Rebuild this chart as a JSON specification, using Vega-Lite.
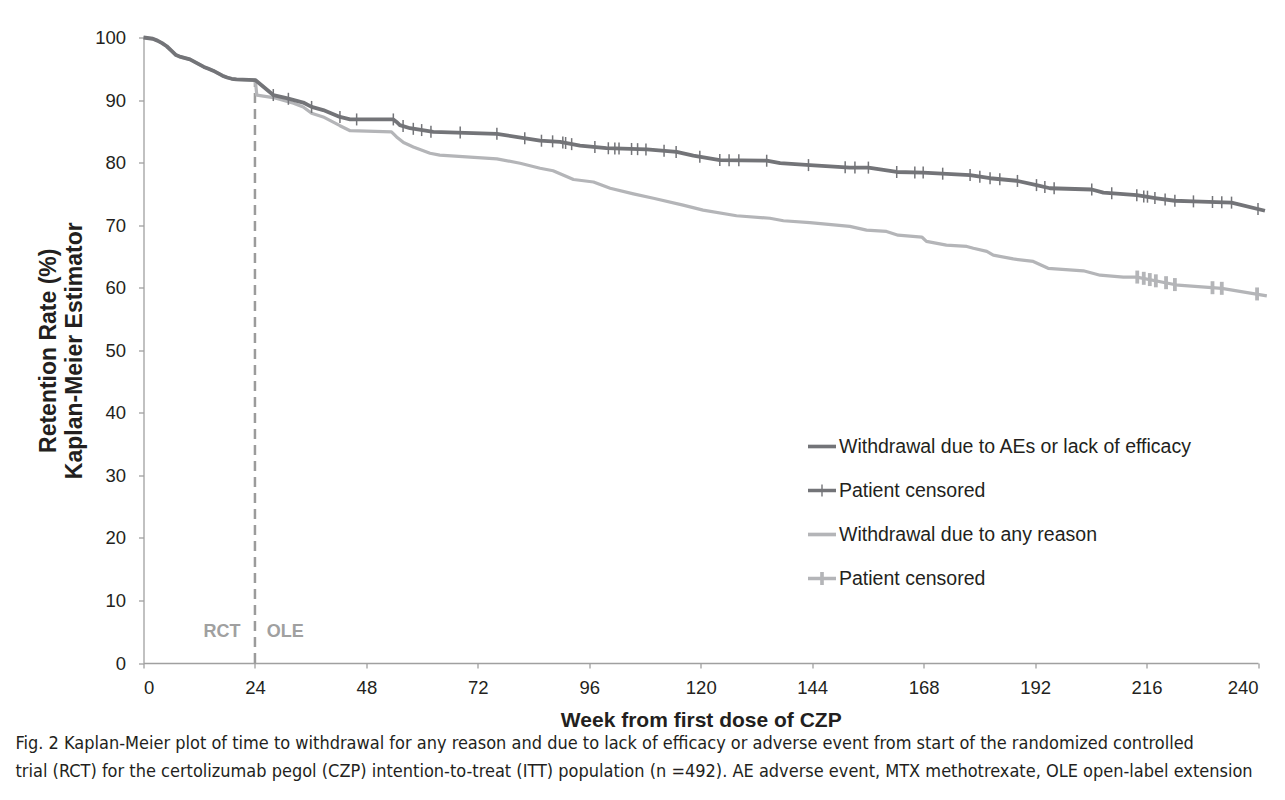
{
  "$schema": "https://vega.github.io/schema/vega-lite/v6.json",
  "width": 1114.5,
  "height": 625.5,
  "autosize": {"type": "none"},
  "padding": {"left": 143.5, "top": 37.5, "right": 27, "bottom": 137},
  "background": "white",
  "config": {
    "view": {"stroke": null},
    "font": "Liberation Sans",
    "axis": {
      "grid": false,
      "domainColor": "#a0a0a0",
      "domainWidth": 1.3,
      "tickColor": "#a0a0a0",
      "tickWidth": 1.3,
      "tickSize": 5,
      "labelFont": "Liberation Sans",
      "labelFontSize": 18.5,
      "labelColor": "#231f20",
      "titleFont": "Liberation Sans",
      "titleColor": "#231f20",
      "titleFontWeight": "bold"
    }
  },
  "title": {
    "text": [
      "Fig. 2 Kaplan-Meier plot of time to withdrawal for any reason and due to lack of efficacy or adverse event from start of the randomized controlled",
      "trial (RCT) for the certolizumab pegol (CZP) intention-to-treat (ITT) population (n =492). AE adverse event, MTX methotrexate, OLE open-label extension"
    ],
    "orient": "bottom",
    "anchor": "start",
    "frame": "group",
    "dx": -128,
    "offset": 4,
    "font": "DejaVu Sans Condensed, Liberation Sans Narrow, sans-serif",
    "fontSize": 18,
    "fontWeight": "normal",
    "color": "#231f20",
    "lineHeight": 28
  },
  "datasets": {
    "curves": [
      {"series": "Withdrawal due to any reason", "week": 0, "rate": 100},
      {"series": "Withdrawal due to any reason", "week": 2, "rate": 99.8},
      {"series": "Withdrawal due to any reason", "week": 3, "rate": 99.5},
      {"series": "Withdrawal due to any reason", "week": 4, "rate": 99.1},
      {"series": "Withdrawal due to any reason", "week": 5, "rate": 98.6},
      {"series": "Withdrawal due to any reason", "week": 6, "rate": 97.9},
      {"series": "Withdrawal due to any reason", "week": 7, "rate": 97.2},
      {"series": "Withdrawal due to any reason", "week": 8, "rate": 96.9},
      {"series": "Withdrawal due to any reason", "week": 9, "rate": 96.7},
      {"series": "Withdrawal due to any reason", "week": 10, "rate": 96.5},
      {"series": "Withdrawal due to any reason", "week": 11, "rate": 96.1},
      {"series": "Withdrawal due to any reason", "week": 12, "rate": 95.7},
      {"series": "Withdrawal due to any reason", "week": 13, "rate": 95.3},
      {"series": "Withdrawal due to any reason", "week": 14, "rate": 95.0},
      {"series": "Withdrawal due to any reason", "week": 15, "rate": 94.7},
      {"series": "Withdrawal due to any reason", "week": 16, "rate": 94.3},
      {"series": "Withdrawal due to any reason", "week": 17, "rate": 93.9},
      {"series": "Withdrawal due to any reason", "week": 18, "rate": 93.6},
      {"series": "Withdrawal due to any reason", "week": 19, "rate": 93.4},
      {"series": "Withdrawal due to any reason", "week": 20, "rate": 93.3},
      {"series": "Withdrawal due to any reason", "week": 24.07, "rate": 93.2},
      {"series": "Withdrawal due to any reason", "week": 24.4, "rate": 90.8},
      {"series": "Withdrawal due to any reason", "week": 27.95, "rate": 90.4},
      {"series": "Withdrawal due to any reason", "week": 32.3, "rate": 89.5},
      {"series": "Withdrawal due to any reason", "week": 34.4, "rate": 88.9},
      {"series": "Withdrawal due to any reason", "week": 36.2, "rate": 87.9},
      {"series": "Withdrawal due to any reason", "week": 38.7, "rate": 87.3},
      {"series": "Withdrawal due to any reason", "week": 42.3, "rate": 85.9},
      {"series": "Withdrawal due to any reason", "week": 44.5, "rate": 85.1},
      {"series": "Withdrawal due to any reason", "week": 53.4, "rate": 84.9},
      {"series": "Withdrawal due to any reason", "week": 54.5, "rate": 84.1},
      {"series": "Withdrawal due to any reason", "week": 56.0, "rate": 83.2},
      {"series": "Withdrawal due to any reason", "week": 58.1, "rate": 82.5},
      {"series": "Withdrawal due to any reason", "week": 61.7, "rate": 81.5},
      {"series": "Withdrawal due to any reason", "week": 63.8, "rate": 81.2},
      {"series": "Withdrawal due to any reason", "week": 76.1, "rate": 80.6},
      {"series": "Withdrawal due to any reason", "week": 81.1, "rate": 79.9},
      {"series": "Withdrawal due to any reason", "week": 85.4, "rate": 79.1},
      {"series": "Withdrawal due to any reason", "week": 88.2, "rate": 78.7},
      {"series": "Withdrawal due to any reason", "week": 92.6, "rate": 77.3},
      {"series": "Withdrawal due to any reason", "week": 96.9, "rate": 76.9},
      {"series": "Withdrawal due to any reason", "week": 100.5, "rate": 75.9},
      {"series": "Withdrawal due to any reason", "week": 105.5, "rate": 75.0},
      {"series": "Withdrawal due to any reason", "week": 109.8, "rate": 74.3},
      {"series": "Withdrawal due to any reason", "week": 116.2, "rate": 73.2},
      {"series": "Withdrawal due to any reason", "week": 120.5, "rate": 72.4},
      {"series": "Withdrawal due to any reason", "week": 127.7, "rate": 71.5},
      {"series": "Withdrawal due to any reason", "week": 134.9, "rate": 71.1},
      {"series": "Withdrawal due to any reason", "week": 137.8, "rate": 70.7},
      {"series": "Withdrawal due to any reason", "week": 143.5, "rate": 70.4},
      {"series": "Withdrawal due to any reason", "week": 152.1, "rate": 69.8},
      {"series": "Withdrawal due to any reason", "week": 155.7, "rate": 69.2},
      {"series": "Withdrawal due to any reason", "week": 160.0, "rate": 69.0},
      {"series": "Withdrawal due to any reason", "week": 162.5, "rate": 68.4},
      {"series": "Withdrawal due to any reason", "week": 167.6, "rate": 68.1},
      {"series": "Withdrawal due to any reason", "week": 168.6, "rate": 67.4},
      {"series": "Withdrawal due to any reason", "week": 172.9, "rate": 66.8},
      {"series": "Withdrawal due to any reason", "week": 177.3, "rate": 66.6},
      {"series": "Withdrawal due to any reason", "week": 178.7, "rate": 66.3},
      {"series": "Withdrawal due to any reason", "week": 181.6, "rate": 65.8},
      {"series": "Withdrawal due to any reason", "week": 183.0, "rate": 65.2},
      {"series": "Withdrawal due to any reason", "week": 187.3, "rate": 64.6},
      {"series": "Withdrawal due to any reason", "week": 191.6, "rate": 64.2},
      {"series": "Withdrawal due to any reason", "week": 194.8, "rate": 63.1},
      {"series": "Withdrawal due to any reason", "week": 202.4, "rate": 62.7},
      {"series": "Withdrawal due to any reason", "week": 206.0, "rate": 62.0},
      {"series": "Withdrawal due to any reason", "week": 211.0, "rate": 61.7},
      {"series": "Withdrawal due to any reason", "week": 213.9, "rate": 61.7},
      {"series": "Withdrawal due to any reason", "week": 222.8, "rate": 60.4},
      {"series": "Withdrawal due to any reason", "week": 232.2, "rate": 59.9},
      {"series": "Withdrawal due to any reason", "week": 241.9, "rate": 58.7},
      {"series": "Withdrawal due to AEs or lack of efficacy", "week": 0, "rate": 100},
      {"series": "Withdrawal due to AEs or lack of efficacy", "week": 2, "rate": 99.8},
      {"series": "Withdrawal due to AEs or lack of efficacy", "week": 3, "rate": 99.5},
      {"series": "Withdrawal due to AEs or lack of efficacy", "week": 4, "rate": 99.1},
      {"series": "Withdrawal due to AEs or lack of efficacy", "week": 5, "rate": 98.6},
      {"series": "Withdrawal due to AEs or lack of efficacy", "week": 6, "rate": 97.9},
      {"series": "Withdrawal due to AEs or lack of efficacy", "week": 7, "rate": 97.2},
      {"series": "Withdrawal due to AEs or lack of efficacy", "week": 8, "rate": 96.9},
      {"series": "Withdrawal due to AEs or lack of efficacy", "week": 9, "rate": 96.7},
      {"series": "Withdrawal due to AEs or lack of efficacy", "week": 10, "rate": 96.5},
      {"series": "Withdrawal due to AEs or lack of efficacy", "week": 11, "rate": 96.1},
      {"series": "Withdrawal due to AEs or lack of efficacy", "week": 12, "rate": 95.7},
      {"series": "Withdrawal due to AEs or lack of efficacy", "week": 13, "rate": 95.3},
      {"series": "Withdrawal due to AEs or lack of efficacy", "week": 14, "rate": 95.0},
      {"series": "Withdrawal due to AEs or lack of efficacy", "week": 15, "rate": 94.7},
      {"series": "Withdrawal due to AEs or lack of efficacy", "week": 16, "rate": 94.3},
      {"series": "Withdrawal due to AEs or lack of efficacy", "week": 17, "rate": 93.9},
      {"series": "Withdrawal due to AEs or lack of efficacy", "week": 18, "rate": 93.6},
      {"series": "Withdrawal due to AEs or lack of efficacy", "week": 19, "rate": 93.4},
      {"series": "Withdrawal due to AEs or lack of efficacy", "week": 20, "rate": 93.3},
      {"series": "Withdrawal due to AEs or lack of efficacy", "week": 24.07, "rate": 93.2},
      {"series": "Withdrawal due to AEs or lack of efficacy", "week": 27.95, "rate": 90.8},
      {"series": "Withdrawal due to AEs or lack of efficacy", "week": 30.8, "rate": 90.3},
      {"series": "Withdrawal due to AEs or lack of efficacy", "week": 34.4, "rate": 89.6},
      {"series": "Withdrawal due to AEs or lack of efficacy", "week": 36.2, "rate": 88.9},
      {"series": "Withdrawal due to AEs or lack of efficacy", "week": 38.7, "rate": 88.4},
      {"series": "Withdrawal due to AEs or lack of efficacy", "week": 42.3, "rate": 87.3},
      {"series": "Withdrawal due to AEs or lack of efficacy", "week": 44.5, "rate": 86.9},
      {"series": "Withdrawal due to AEs or lack of efficacy", "week": 53.8, "rate": 86.9},
      {"series": "Withdrawal due to AEs or lack of efficacy", "week": 54.5, "rate": 86.5},
      {"series": "Withdrawal due to AEs or lack of efficacy", "week": 55.2, "rate": 86.0},
      {"series": "Withdrawal due to AEs or lack of efficacy", "week": 57.4, "rate": 85.5},
      {"series": "Withdrawal due to AEs or lack of efficacy", "week": 62.4, "rate": 84.9},
      {"series": "Withdrawal due to AEs or lack of efficacy", "week": 76.1, "rate": 84.6},
      {"series": "Withdrawal due to AEs or lack of efficacy", "week": 85.4, "rate": 83.5},
      {"series": "Withdrawal due to AEs or lack of efficacy", "week": 89.7, "rate": 83.3},
      {"series": "Withdrawal due to AEs or lack of efficacy", "week": 94.0, "rate": 82.7},
      {"series": "Withdrawal due to AEs or lack of efficacy", "week": 99.7, "rate": 82.3},
      {"series": "Withdrawal due to AEs or lack of efficacy", "week": 108.4, "rate": 82.1},
      {"series": "Withdrawal due to AEs or lack of efficacy", "week": 114.8, "rate": 81.7},
      {"series": "Withdrawal due to AEs or lack of efficacy", "week": 118.4, "rate": 81.1},
      {"series": "Withdrawal due to AEs or lack of efficacy", "week": 124.1, "rate": 80.4},
      {"series": "Withdrawal due to AEs or lack of efficacy", "week": 134.2, "rate": 80.3},
      {"series": "Withdrawal due to AEs or lack of efficacy", "week": 137.1, "rate": 79.9},
      {"series": "Withdrawal due to AEs or lack of efficacy", "week": 143.5, "rate": 79.6},
      {"series": "Withdrawal due to AEs or lack of efficacy", "week": 152.1, "rate": 79.2},
      {"series": "Withdrawal due to AEs or lack of efficacy", "week": 156.1, "rate": 79.2},
      {"series": "Withdrawal due to AEs or lack of efficacy", "week": 162.2, "rate": 78.5},
      {"series": "Withdrawal due to AEs or lack of efficacy", "week": 167.9, "rate": 78.4},
      {"series": "Withdrawal due to AEs or lack of efficacy", "week": 178.0, "rate": 78.0},
      {"series": "Withdrawal due to AEs or lack of efficacy", "week": 182.3, "rate": 77.5},
      {"series": "Withdrawal due to AEs or lack of efficacy", "week": 188.0, "rate": 77.1},
      {"series": "Withdrawal due to AEs or lack of efficacy", "week": 192.3, "rate": 76.4},
      {"series": "Withdrawal due to AEs or lack of efficacy", "week": 195.2, "rate": 75.9},
      {"series": "Withdrawal due to AEs or lack of efficacy", "week": 204.2, "rate": 75.7},
      {"series": "Withdrawal due to AEs or lack of efficacy", "week": 206.7, "rate": 75.2},
      {"series": "Withdrawal due to AEs or lack of efficacy", "week": 213.9, "rate": 74.8},
      {"series": "Withdrawal due to AEs or lack of efficacy", "week": 218.2, "rate": 74.3},
      {"series": "Withdrawal due to AEs or lack of efficacy", "week": 222.1, "rate": 73.9},
      {"series": "Withdrawal due to AEs or lack of efficacy", "week": 226.1, "rate": 73.8},
      {"series": "Withdrawal due to AEs or lack of efficacy", "week": 234.3, "rate": 73.6},
      {"series": "Withdrawal due to AEs or lack of efficacy", "week": 241.5, "rate": 72.3}
    ],
    "censoredAE": [
      {"series": "Patient censored (AEs or lack of efficacy)", "week": 27.95, "rate": 90.8},
      {"series": "Patient censored (AEs or lack of efficacy)", "week": 31.2, "rate": 90.2},
      {"series": "Patient censored (AEs or lack of efficacy)", "week": 36.2, "rate": 88.9},
      {"series": "Patient censored (AEs or lack of efficacy)", "week": 42.3, "rate": 87.3},
      {"series": "Patient censored (AEs or lack of efficacy)", "week": 45.9, "rate": 86.9},
      {"series": "Patient censored (AEs or lack of efficacy)", "week": 53.8, "rate": 86.9},
      {"series": "Patient censored (AEs or lack of efficacy)", "week": 55.9, "rate": 85.85},
      {"series": "Patient censored (AEs or lack of efficacy)", "week": 58.1, "rate": 85.4},
      {"series": "Patient censored (AEs or lack of efficacy)", "week": 59.9, "rate": 85.2},
      {"series": "Patient censored (AEs or lack of efficacy)", "week": 61.9, "rate": 84.95},
      {"series": "Patient censored (AEs or lack of efficacy)", "week": 68.2, "rate": 84.8},
      {"series": "Patient censored (AEs or lack of efficacy)", "week": 76.1, "rate": 84.6},
      {"series": "Patient censored (AEs or lack of efficacy)", "week": 82.1, "rate": 83.9},
      {"series": "Patient censored (AEs or lack of efficacy)", "week": 85.7, "rate": 83.5},
      {"series": "Patient censored (AEs or lack of efficacy)", "week": 88.1, "rate": 83.4},
      {"series": "Patient censored (AEs or lack of efficacy)", "week": 90.3, "rate": 83.2},
      {"series": "Patient censored (AEs or lack of efficacy)", "week": 90.9, "rate": 83.13},
      {"series": "Patient censored (AEs or lack of efficacy)", "week": 92.2, "rate": 82.95},
      {"series": "Patient censored (AEs or lack of efficacy)", "week": 97.2, "rate": 82.5},
      {"series": "Patient censored (AEs or lack of efficacy)", "week": 100.1, "rate": 82.29},
      {"series": "Patient censored (AEs or lack of efficacy)", "week": 101.5, "rate": 82.25},
      {"series": "Patient censored (AEs or lack of efficacy)", "week": 102.4, "rate": 82.24},
      {"series": "Patient censored (AEs or lack of efficacy)", "week": 105.1, "rate": 82.18},
      {"series": "Patient censored (AEs or lack of efficacy)", "week": 106.4, "rate": 82.15},
      {"series": "Patient censored (AEs or lack of efficacy)", "week": 108.2, "rate": 82.1},
      {"series": "Patient censored (AEs or lack of efficacy)", "week": 112.1, "rate": 81.9},
      {"series": "Patient censored (AEs or lack of efficacy)", "week": 114.7, "rate": 81.7},
      {"series": "Patient censored (AEs or lack of efficacy)", "week": 119.8, "rate": 80.93},
      {"series": "Patient censored (AEs or lack of efficacy)", "week": 124.1, "rate": 80.4},
      {"series": "Patient censored (AEs or lack of efficacy)", "week": 126.1, "rate": 80.38},
      {"series": "Patient censored (AEs or lack of efficacy)", "week": 128.2, "rate": 80.36},
      {"series": "Patient censored (AEs or lack of efficacy)", "week": 134.2, "rate": 80.3},
      {"series": "Patient censored (AEs or lack of efficacy)", "week": 143.2, "rate": 79.6},
      {"series": "Patient censored (AEs or lack of efficacy)", "week": 151.1, "rate": 79.25},
      {"series": "Patient censored (AEs or lack of efficacy)", "week": 153.2, "rate": 79.2},
      {"series": "Patient censored (AEs or lack of efficacy)", "week": 156.1, "rate": 79.2},
      {"series": "Patient censored (AEs or lack of efficacy)", "week": 162.2, "rate": 78.5},
      {"series": "Patient censored (AEs or lack of efficacy)", "week": 166.1, "rate": 78.43},
      {"series": "Patient censored (AEs or lack of efficacy)", "week": 167.9, "rate": 78.4},
      {"series": "Patient censored (AEs or lack of efficacy)", "week": 172.1, "rate": 78.23},
      {"series": "Patient censored (AEs or lack of efficacy)", "week": 178.0, "rate": 78.0},
      {"series": "Patient censored (AEs or lack of efficacy)", "week": 180.1, "rate": 77.75},
      {"series": "Patient censored (AEs or lack of efficacy)", "week": 182.3, "rate": 77.5},
      {"series": "Patient censored (AEs or lack of efficacy)", "week": 184.4, "rate": 77.35},
      {"series": "Patient censored (AEs or lack of efficacy)", "week": 188.2, "rate": 77.07},
      {"series": "Patient censored (AEs or lack of efficacy)", "week": 192.3, "rate": 76.4},
      {"series": "Patient censored (AEs or lack of efficacy)", "week": 194.1, "rate": 76.09},
      {"series": "Patient censored (AEs or lack of efficacy)", "week": 196.1, "rate": 75.88},
      {"series": "Patient censored (AEs or lack of efficacy)", "week": 204.2, "rate": 75.7},
      {"series": "Patient censored (AEs or lack of efficacy)", "week": 208.5, "rate": 75.1},
      {"series": "Patient censored (AEs or lack of efficacy)", "week": 213.9, "rate": 74.8},
      {"series": "Patient censored (AEs or lack of efficacy)", "week": 215.4, "rate": 74.6},
      {"series": "Patient censored (AEs or lack of efficacy)", "week": 216.2, "rate": 74.55},
      {"series": "Patient censored (AEs or lack of efficacy)", "week": 217.8, "rate": 74.35},
      {"series": "Patient censored (AEs or lack of efficacy)", "week": 220.0, "rate": 74.1},
      {"series": "Patient censored (AEs or lack of efficacy)", "week": 222.1, "rate": 73.9},
      {"series": "Patient censored (AEs or lack of efficacy)", "week": 226.1, "rate": 73.8},
      {"series": "Patient censored (AEs or lack of efficacy)", "week": 230.2, "rate": 73.7},
      {"series": "Patient censored (AEs or lack of efficacy)", "week": 232.2, "rate": 73.65},
      {"series": "Patient censored (AEs or lack of efficacy)", "week": 234.3, "rate": 73.6},
      {"series": "Patient censored (AEs or lack of efficacy)", "week": 240.0, "rate": 72.6}
    ],
    "censoredAny": [
      {"series": "Patient censored (any reason)", "week": 214.0, "rate": 61.7},
      {"series": "Patient censored (any reason)", "week": 215.4, "rate": 61.5},
      {"series": "Patient censored (any reason)", "week": 216.7, "rate": 61.3},
      {"series": "Patient censored (any reason)", "week": 218.0, "rate": 61.1},
      {"series": "Patient censored (any reason)", "week": 220.2, "rate": 60.8},
      {"series": "Patient censored (any reason)", "week": 222.1, "rate": 60.5},
      {"series": "Patient censored (any reason)", "week": 230.2, "rate": 60.0},
      {"series": "Patient censored (any reason)", "week": 232.2, "rate": 59.9},
      {"series": "Patient censored (any reason)", "week": 239.8, "rate": 59.0}
    ],
    "divider": [{"week": 24, "low": 0, "high": 93.3}],
    "phases": [
      {"label": "RCT", "week": 16.9, "rate": 5},
      {"label": "OLE", "week": 30.5, "rate": 5}
    ]
  },
  "layer": [
    {
      "data": {"name": "divider"},
      "mark": {"type": "rule", "color": "#9b9b9b", "strokeWidth": 2.5, "strokeDash": [10, 6]},
      "encoding": {
        "x": {"field": "week", "type": "quantitative", "scale": {"domain": [0, 240], "nice": false}},
        "y": {"field": "low", "type": "quantitative", "scale": {"domain": [0, 100], "nice": false}},
        "y2": {"field": "high"}
      }
    },
    {
      "data": {"name": "phases"},
      "mark": {"type": "text", "font": "Liberation Sans", "fontSize": 18, "fontWeight": "bold", "color": "#a0a0a0", "align": "center", "baseline": "middle"},
      "encoding": {
        "x": {"field": "week", "type": "quantitative"},
        "y": {"field": "rate", "type": "quantitative"},
        "text": {"field": "label"}
      }
    },
    {
      "data": {"name": "curves"},
      "mark": {"type": "line", "strokeJoin": "round"},
      "encoding": {
        "x": {
          "field": "week", "type": "quantitative",
          "scale": {"domain": [0, 240], "nice": false},
          "axis": {
            "values": [0, 24, 48, 72, 96, 120, 144, 168, 192, 216, 240],
            "title": "Week from first dose of CZP",
            "titleFontSize": 21,
            "labelPadding": 10,
            "titlePadding": 13
          }
        },
        "y": {
          "field": "rate", "type": "quantitative",
          "scale": {"domain": [0, 100], "nice": false},
          "axis": {
            "values": [0, 10, 20, 30, 40, 50, 60, 70, 80, 90, 100],
            "title": ["Retention Rate (%)", "Kaplan-Meier Estimator"],
            "titleFontSize": 23,
            "titleLineHeight": 26,
            "labelPadding": 13,
            "titlePadding": 8
          }
        },
        "color": {
          "field": "series", "type": "nominal",
          "scale": {
            "domain": ["Withdrawal due to AEs or lack of efficacy", "Patient censored (AEs or lack of efficacy)", "Withdrawal due to any reason", "Patient censored (any reason)"],
            "range": ["#737478", "#737478", "#b4b5b8", "#b4b5b8"]
          },
          "legend": {
            "orient": "none",
            "legendX": 664.5,
            "legendY": 395,
            "title": null,
            "padding": 0,
            "labelFont": "Liberation Sans",
            "labelFontSize": 19.5,
            "labelColor": "#231f20",
            "labelOffset": 3,
            "rowPadding": 20,
            "symbolSize": 784,
            "labelLimit": 600,
            "labelExpr": "indexof(datum.label, 'Patient') >= 0 ? 'Patient censored' : datum.label",
            "encode": {
              "symbols": {
                "update": {
                  "shape": {"signal": "datum.value === 'Patient censored (any reason)' ? 'M-1,-0.12H1V0.12H-1Z M-0.13,-0.46H0.13V0.46H-0.13Z' : (indexof(datum.value, 'Patient') >= 0 ? 'M-1,-0.13H1V0.13H-1Z M-0.05,-0.42H0.05V0.42H-0.05Z' : 'M-1,-0.13H1V0.13H-1Z')"},
                  "fill": {"scale": "color", "field": "value"},
                  "stroke": {"value": "transparent"},
                  "strokeWidth": {"value": 0},
                  "opacity": {"value": 1}
                }
              }
            }
          }
        },
        "strokeWidth": {
          "field": "series", "type": "nominal",
          "scale": {
            "domain": ["Withdrawal due to AEs or lack of efficacy", "Withdrawal due to any reason"],
            "range": [3.8, 3.2]
          },
          "legend": null
        }
      }
    },
    {
      "data": {"name": "censoredAE"},
      "mark": {"type": "point", "shape": "M0,-1V1", "filled": false, "opacity": 1, "strokeWidth": 1.5, "size": 144},
      "encoding": {
        "x": {"field": "week", "type": "quantitative"},
        "y": {"field": "rate", "type": "quantitative"},
        "color": {"field": "series", "type": "nominal"}
      }
    },
    {
      "data": {"name": "censoredAny"},
      "mark": {"type": "point", "shape": "M0,-1V1", "filled": false, "opacity": 1, "strokeWidth": 3.8, "size": 169},
      "encoding": {
        "x": {"field": "week", "type": "quantitative"},
        "y": {"field": "rate", "type": "quantitative"},
        "color": {"field": "series", "type": "nominal"}
      }
    }
  ]
}
